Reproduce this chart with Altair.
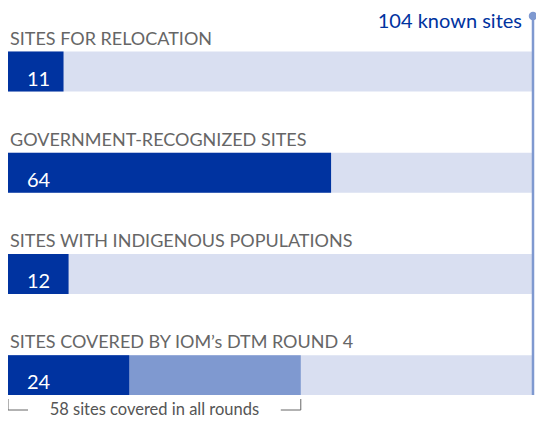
import altair as alt
import pandas as pd

# ---- data ----
categories = [
    "SITES FOR RELOCATION",
    "GOVERNMENT-RECOGNIZED SITES",
    "SITES WITH INDIGENOUS POPULATIONS",
    "SITES COVERED BY IOM’s DTM ROUND 4",
]
values = [11, 64, 12, 24]
total_known = 104
known_label = "104 known sites"
rounds_category = "SITES COVERED BY IOM’s DTM ROUND 4"
all_rounds = 58
rounds_label = "58 sites covered in all rounds"

# ---- colours / fonts ----
DARK = "#0033a0"
MID = "#7f99d0"
LIGHT = "#d9dff1"
GRAY = "#666666"
FONT = "Lato"

df = pd.DataFrame({
    "category": categories,
    "value": values,
    "total": [total_known] * len(categories),
    "label": [str(v) for v in values],
})
df_rounds = pd.DataFrame({"category": [rounds_category], "value": [all_rounds]})
df_total = pd.DataFrame({"total": [total_known], "text": [known_label]})
df_start = pd.DataFrame({"pos": [0]})
df_end = pd.DataFrame({"pos": [all_rounds]})
df_ends = pd.DataFrame({"pos": [0, all_rounds]})
df_mid = pd.DataFrame({"mid": [all_rounds / 2], "text": [rounds_label]})

x_scale = alt.Scale(domain=[0, total_known], range=[0, 525], nice=False, zero=True)
y_scale = alt.Scale(domain=categories, range=[13, 417.7], paddingInner=0.605, paddingOuter=0.3025)

X = lambda f: alt.X(f, scale=x_scale, axis=None, title=None)
Y = alt.Y("category:N", scale=y_scale, axis=None, sort=categories, title=None)

base = alt.Chart(df)

bg = base.mark_bar(color=LIGHT).encode(x=X("total:Q"), y=Y)
rounds = alt.Chart(df_rounds).mark_bar(color=MID).encode(x=X("value:Q"), y=Y)
bars = base.mark_bar(color=DARK).encode(x=X("value:Q"), y=Y)

cat_labels = base.mark_text(
    align="left", baseline="alphabetic", dx=2, dy=-27,
    font=FONT, fontSize=18, color=GRAY,
).encode(x=alt.value(0), y=Y, text="category:N")

val_labels = base.mark_text(
    align="left", baseline="alphabetic", dx=19, dy=14,
    font=FONT, fontSize=20, color="white",
).encode(x=alt.value(0), y=Y, text="label:N")

total_rule = alt.Chart(df_total).mark_rule(color=MID, strokeWidth=2.5).encode(
    x=X("total:Q"), y=alt.value(8), y2=alt.value(387)
)
total_dot = alt.Chart(df_total).mark_point(
    filled=True, size=72, color=MID, opacity=1
).encode(x=X("total:Q"), y=alt.value(8))
total_text = alt.Chart(df_total).mark_text(
    align="right", baseline="alphabetic", dx=-11,
    font=FONT, fontSize=20, color=DARK,
).encode(x=X("total:Q"), y=alt.value(20), text="text:N")

br_vert = alt.Chart(df_ends).mark_rule(color=GRAY, strokeWidth=1).encode(
    x=X("pos:Q"), y=alt.value(391), y2=alt.value(402)
)
br_left = alt.Chart(df_start).mark_rule(color=GRAY, strokeWidth=1, x2Offset=20).encode(
    x=X("pos:Q"), x2="pos:Q", y=alt.value(402)
)
br_right = alt.Chart(df_end).mark_rule(color=GRAY, strokeWidth=1, x2Offset=-20).encode(
    x=X("pos:Q"), x2="pos:Q", y=alt.value(402)
)
br_text = alt.Chart(df_mid).mark_text(
    align="center", baseline="alphabetic",
    font=FONT, fontSize=16.5, color="#555555",
).encode(x=X("mid:Q"), y=alt.value(407), text="text:N")

chart = alt.layer(
    bg, rounds, bars, cat_labels, val_labels,
    total_rule, total_dot, total_text,
    br_vert, br_left, br_right, br_text,
).properties(
    width=528, height=412, padding=0,
    autosize=alt.AutoSizeParams(type="none"),
    background="white",
).configure_view(stroke=None)

chart.save("out.html", embed_options={"renderer": "svg", "actions": False})
